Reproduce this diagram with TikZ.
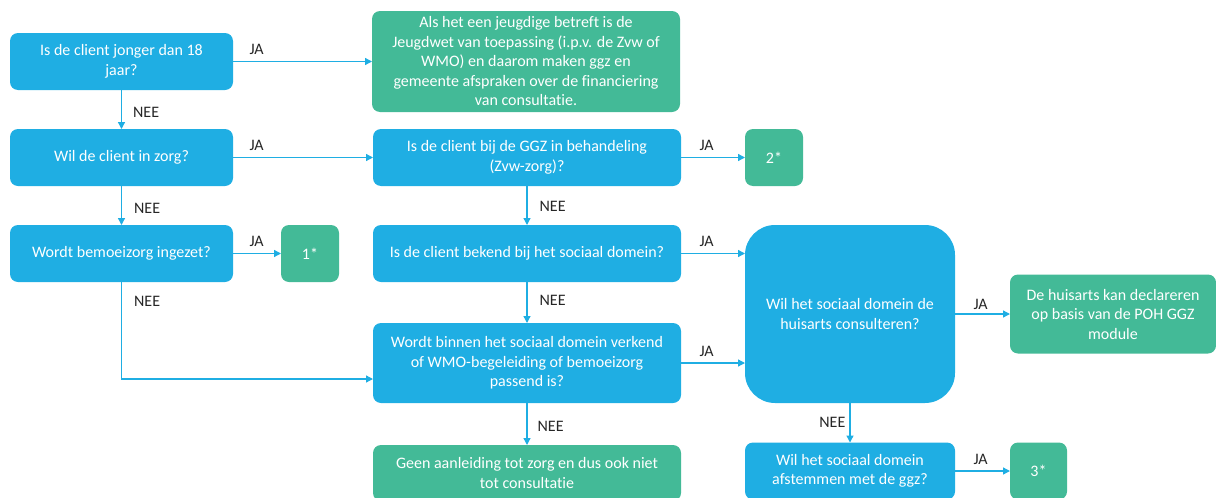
\documentclass[tikz,border=0pt]{standalone}
\usepackage{fontspec}
\setmainfont[Ligatures=NoCommon]{Carlito}
\usetikzlibrary{arrows.meta}
\definecolor{vraagblauw}{HTML}{1FAEE3}
\definecolor{antwoordgroen}{HTML}{43BA97}
\definecolor{labelgrijs}{HTML}{262626}
\begin{document}
\begin{tikzpicture}[x=1pt, y=-1pt,
    vraag/.style={fill=vraagblauw, text=white, rounded corners=8pt, align=center, inner sep=0pt, outer sep=0pt, font=\fontsize{16}{19.5}\selectfont},
    antwoord/.style={vraag, fill=antwoordgroen},
    lbl/.style={text=labelgrijs, inner sep=2pt, font=\fontsize{16}{18}\selectfont},
    pijl/.style={draw=vraagblauw, line width=1.3pt, -{Triangle[length=7pt,width=7pt]}}]
                \useasboundingbox (0,0) rectangle (1216,498);

                \node[vraag, minimum width=223pt, minimum height=57pt] (jonger) at (121.5,61.5) {Is de client jonger dan 18\\jaar?};
                \node[antwoord, minimum width=308pt, minimum height=101pt] (jeugdwet) at (526,61.5) {Als het een jeugdige betreft is de\\Jeugdwet van toepassing (i.p.v. de Zvw of\\WMO) en daarom maken ggz en\\gemeente afspraken over de financiering\\van consultatie.};
                \node[vraag, minimum width=223pt, minimum height=57pt] (inzorg) at (121.5,157.5) {Wil de client in zorg?};
                \node[vraag, minimum width=308pt, minimum height=57pt] (ggz) at (527,157.5) {Is de client bij de GGZ in behandeling\\(Zvw-zorg)?};
                \node[antwoord, minimum width=58pt, minimum height=57pt] (twee) at (774,157.5) {2*};
                \node[vraag, minimum width=223pt, minimum height=57pt] (bemoei) at (121.5,253.5) {Wordt bemoeizorg ingezet?};
                \node[antwoord, minimum width=58pt, minimum height=57pt] (een) at (310,253.5) {1*};
                \node[vraag, minimum width=308pt, minimum height=57pt] (bekend) at (527,253.5) {Is de client bekend bij het sociaal domein?};
                \node[vraag, minimum width=308pt, minimum height=80pt] (verkend) at (527,363) {Wordt binnen het sociaal domein verkend\\of WMO-begeleiding of bemoeizorg\\passend is?};
                \node[antwoord, minimum width=308pt, minimum height=56pt] (geen) at (527,473) {Geen aanleiding tot zorg en dus ook niet\\tot consultatie};
                \node[vraag, rounded corners=30pt, minimum width=210pt, minimum height=178pt] (consult) at (850,314) {Wil het sociaal domein de\\huisarts consulteren?};
                \node[antwoord, minimum width=206pt, minimum height=79pt] (declareren) at (1113,314) {De huisarts kan declareren\\op basis van de POH GGZ\\module};
                \node[vraag, minimum width=210pt, minimum height=57pt] (afstemmen) at (850,471) {Wil het sociaal domein\\afstemmen met de ggz?};
                \node[antwoord, minimum width=57pt, minimum height=57pt] (drie) at (1038.5,471) {3*};

                \draw[pijl] (jonger.east) -- node[lbl, at start, above right, xshift=14pt, yshift=4pt] (ja1) {JA} (jeugdwet.west);
                \draw[pijl] (inzorg.east) -- node[lbl, at start, above right, xshift=14pt, yshift=4pt] (ja2) {JA} (ggz.west);
                \draw[pijl] (bemoei.east) -- node[lbl, at start, above right, xshift=14pt, yshift=4pt] (ja3) {JA} (een.west);
                \draw[pijl] (ggz.east) -- node[lbl, at start, above right, xshift=16pt, yshift=4pt] (ja4) {JA} (twee.west);
                \draw[pijl] (bekend.east) -- node[lbl, at start, above right, xshift=16pt, yshift=4pt] (ja5) {JA} (bekend.east -| consult.west);
                \draw[pijl] (verkend.east) -- node[lbl, at start, above right, xshift=16pt, yshift=4pt] (ja6) {JA} (verkend.east -| consult.west);
                \draw[pijl] (consult.east) -- node[lbl, at start, above right, xshift=16pt, yshift=2pt] (ja7) {JA} (declareren.west);
                \draw[pijl] (afstemmen.east) -- node[lbl, at start, above right, xshift=16pt, yshift=4pt] (ja8) {JA} (drie.west);

                \draw[pijl] (jonger.south) -- node[lbl, midway, right, xshift=9pt, yshift=-3pt] (nee1) {NEE} (inzorg.north);
                \draw[pijl] (inzorg.south) -- node[lbl, midway, right, xshift=10pt, yshift=-3pt] (nee2) {NEE} (bemoei.north);
                \draw[pijl] (bemoei.south) |- node[lbl, pos=0.1, right, xshift=10pt] (nee3) {NEE} ([yshift=-16pt]verkend.west);
                \draw[pijl] (ggz.south) -- node[lbl, midway, right, xshift=10pt, yshift=-1pt] (nee4) {NEE} (bekend.north);
                \draw[pijl] (bekend.south) -- node[lbl, midway, right, xshift=10pt, yshift=2pt] (nee5) {NEE} (verkend.north);
                \draw[pijl] (verkend.south) -- node[lbl, midway, right, xshift=8pt, yshift=-2pt] (nee6) {NEE} (geen.north);
                \draw[pijl] (consult.south) -- node[lbl, midway, left, xshift=-2pt] (nee7) {NEE} (afstemmen.north);
            \end{tikzpicture}
\end{document}
